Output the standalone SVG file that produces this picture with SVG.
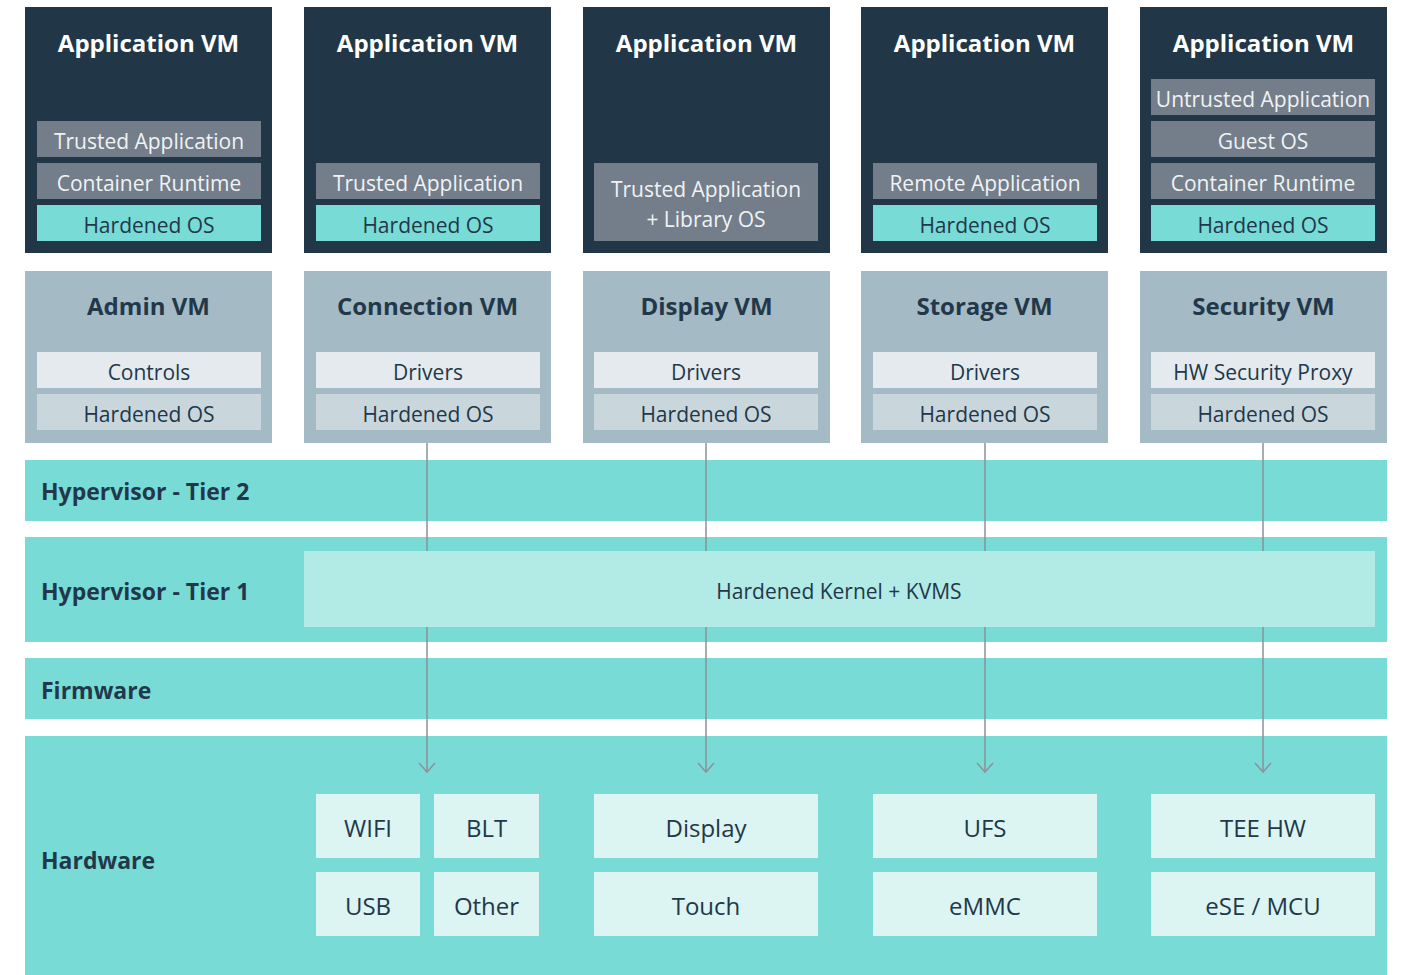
<svg xmlns="http://www.w3.org/2000/svg" width="1404" height="975" viewBox="0 0 1404 975">
  <style>
    text { font-family: "Open Sans", "Noto Sans", "DejaVu Sans", sans-serif; }
    .vm-app { fill: #213646; }
    .vm-sys { fill: #a4bac4; }
    .bar-gray { fill: #737e8a; }
    .bar-teal { fill: #79dbd5; }
    .bar-light { fill: #e4eaed; }
    .bar-mid { fill: #c9d7dd; }
    .band { fill: #79dbd5; }
    .kernel { fill: #b2eae5; }
    .hw { fill: #dcf4f2; }
    .t-title-w { font-size: 24px; font-weight: 700; fill: #ffffff; text-anchor: middle; }
    .t-title-d { font-size: 24px; font-weight: 700; fill: #22384a; text-anchor: middle; }
    .t-bar-w { font-size: 21px; fill: #f0f2f4; text-anchor: middle; }
    .t-bar-d { font-size: 21px; fill: #22384a; text-anchor: middle; }
    .t-band { font-size: 23px; font-weight: 700; fill: #22384a; }
    .t-kernel { font-size: 21px; fill: #22384a; text-anchor: middle; }
    .t-hw { font-size: 24px; fill: #22384a; text-anchor: middle; }
    .conn { fill: none; stroke: #8a9399; stroke-width: 1.5; marker-end: url(#chev); }
  </style>
  <defs>
    <marker id="chev" markerUnits="userSpaceOnUse" viewBox="-10 -10 20 20" refX="0" refY="0" markerWidth="20" markerHeight="20" orient="auto" overflow="visible">
      <path d="M-9,-8 L0,0 L-9,8" fill="none" stroke="#8a9399" stroke-width="1.5"/>
    </marker>
  </defs>

  <rect width="1404" height="975" fill="#ffffff"/>

  <!-- Application VMs -->
  <g id="app-vm-1">
    <rect class="vm-app" x="25" y="7" width="247" height="246"/>
    <text class="t-title-w" x="148.5" y="52">Application VM</text>
    <rect class="bar-gray" x="37" y="121" width="224" height="36"/>
    <text class="t-bar-w" x="149" y="148.5">Trusted Application</text>
    <rect class="bar-gray" x="37" y="163" width="224" height="36"/>
    <text class="t-bar-w" x="149" y="190.5">Container Runtime</text>
    <rect class="bar-teal" x="37" y="205" width="224" height="36"/>
    <text class="t-bar-d" x="149" y="232.5">Hardened OS</text>
  </g>
  <g id="app-vm-2">
    <rect class="vm-app" x="304" y="7" width="247" height="246"/>
    <text class="t-title-w" x="427.5" y="52">Application VM</text>
    <rect class="bar-gray" x="316" y="163" width="224" height="36"/>
    <text class="t-bar-w" x="428" y="190.5">Trusted Application</text>
    <rect class="bar-teal" x="316" y="205" width="224" height="36"/>
    <text class="t-bar-d" x="428" y="232.5">Hardened OS</text>
  </g>
  <g id="app-vm-3">
    <rect class="vm-app" x="583" y="7" width="247" height="246"/>
    <text class="t-title-w" x="706.5" y="52">Application VM</text>
    <rect class="bar-gray" x="594" y="163" width="224" height="78"/>
    <text class="t-bar-w" x="706" y="196.5">Trusted Application</text>
    <text class="t-bar-w" x="706" y="226.5">+ Library OS</text>
  </g>
  <g id="app-vm-4">
    <rect class="vm-app" x="861" y="7" width="247" height="246"/>
    <text class="t-title-w" x="984.5" y="52">Application VM</text>
    <rect class="bar-gray" x="873" y="163" width="224" height="36"/>
    <text class="t-bar-w" x="985" y="190.5">Remote Application</text>
    <rect class="bar-teal" x="873" y="205" width="224" height="36"/>
    <text class="t-bar-d" x="985" y="232.5">Hardened OS</text>
  </g>
  <g id="app-vm-5">
    <rect class="vm-app" x="1140" y="7" width="247" height="246"/>
    <text class="t-title-w" x="1263.5" y="52">Application VM</text>
    <rect class="bar-gray" x="1151" y="79" width="224" height="36"/>
    <text class="t-bar-w" x="1263" y="106.5">Untrusted Application</text>
    <rect class="bar-gray" x="1151" y="121" width="224" height="36"/>
    <text class="t-bar-w" x="1263" y="148.5">Guest OS</text>
    <rect class="bar-gray" x="1151" y="163" width="224" height="36"/>
    <text class="t-bar-w" x="1263" y="190.5">Container Runtime</text>
    <rect class="bar-teal" x="1151" y="205" width="224" height="36"/>
    <text class="t-bar-d" x="1263" y="232.5">Hardened OS</text>
  </g>

  <!-- System VMs -->
  <g id="admin-vm">
    <rect class="vm-sys" x="25" y="271" width="247" height="172"/>
    <text class="t-title-d" x="148.5" y="315">Admin VM</text>
    <rect class="bar-light" x="37" y="352" width="224" height="36"/>
    <text class="t-bar-d" x="149" y="379.5">Controls</text>
    <rect class="bar-mid" x="37" y="394" width="224" height="36"/>
    <text class="t-bar-d" x="149" y="421.5">Hardened OS</text>
  </g>
  <g id="connection-vm">
    <rect class="vm-sys" x="304" y="271" width="247" height="172"/>
    <text class="t-title-d" x="427.5" y="315">Connection VM</text>
    <rect class="bar-light" x="316" y="352" width="224" height="36"/>
    <text class="t-bar-d" x="428" y="379.5">Drivers</text>
    <rect class="bar-mid" x="316" y="394" width="224" height="36"/>
    <text class="t-bar-d" x="428" y="421.5">Hardened OS</text>
  </g>
  <g id="display-vm">
    <rect class="vm-sys" x="583" y="271" width="247" height="172"/>
    <text class="t-title-d" x="706.5" y="315">Display VM</text>
    <rect class="bar-light" x="594" y="352" width="224" height="36"/>
    <text class="t-bar-d" x="706" y="379.5">Drivers</text>
    <rect class="bar-mid" x="594" y="394" width="224" height="36"/>
    <text class="t-bar-d" x="706" y="421.5">Hardened OS</text>
  </g>
  <g id="storage-vm">
    <rect class="vm-sys" x="861" y="271" width="247" height="172"/>
    <text class="t-title-d" x="984.5" y="315">Storage VM</text>
    <rect class="bar-light" x="873" y="352" width="224" height="36"/>
    <text class="t-bar-d" x="985" y="379.5">Drivers</text>
    <rect class="bar-mid" x="873" y="394" width="224" height="36"/>
    <text class="t-bar-d" x="985" y="421.5">Hardened OS</text>
  </g>
  <g id="security-vm">
    <rect class="vm-sys" x="1140" y="271" width="247" height="172"/>
    <text class="t-title-d" x="1263.5" y="315">Security VM</text>
    <rect class="bar-light" x="1151" y="352" width="224" height="36"/>
    <text class="t-bar-d" x="1263" y="379.5">HW Security Proxy</text>
    <rect class="bar-mid" x="1151" y="394" width="224" height="36"/>
    <text class="t-bar-d" x="1263" y="421.5">Hardened OS</text>
  </g>

  <!-- Layers -->
  <g id="hypervisor-tier-2">
    <rect class="band" x="25" y="460" width="1362" height="61"/>
    <text class="t-band" x="41" y="500">Hypervisor - Tier 2</text>
  </g>
  <g id="hypervisor-tier-1">
    <rect class="band" x="25" y="537" width="1362" height="105"/>
    <text class="t-band" x="41" y="600">Hypervisor - Tier 1</text>
  </g>
  <g id="firmware">
    <rect class="band" x="25" y="658" width="1362" height="61"/>
    <text class="t-band" x="41" y="699">Firmware</text>
  </g>
  <g id="hardware">
    <rect class="band" x="25" y="736" width="1362" height="239"/>
    <text class="t-band" x="41" y="869">Hardware</text>
  </g>

  <!-- Driver paths down to the hardware -->
  <g id="connectors">
    <path class="conn" d="M427,443 V551 M427,627 V772"/>
    <path class="conn" d="M706,443 V551 M706,627 V772"/>
    <path class="conn" d="M985,443 V551 M985,627 V772"/>
    <path class="conn" d="M1263,443 V551 M1263,627 V772"/>
  </g>

  <g id="kernel">
    <rect class="kernel" x="304" y="551" width="1071" height="76"/>
    <text class="t-kernel" x="839" y="599">Hardened Kernel + KVMS</text>
  </g>

  <!-- Hardware blocks -->
  <g id="hw-wifi"><rect class="hw" x="316" y="794" width="104" height="64"/><text class="t-hw" x="368" y="836.5">WIFI</text></g>
  <g id="hw-blt"><rect class="hw" x="434" y="794" width="105" height="64"/><text class="t-hw" x="486.5" y="836.5">BLT</text></g>
  <g id="hw-usb"><rect class="hw" x="316" y="872" width="104" height="64"/><text class="t-hw" x="368" y="914.5">USB</text></g>
  <g id="hw-other"><rect class="hw" x="434" y="872" width="105" height="64"/><text class="t-hw" x="486.5" y="914.5">Other</text></g>
  <g id="hw-display"><rect class="hw" x="594" y="794" width="224" height="64"/><text class="t-hw" x="706" y="836.5">Display</text></g>
  <g id="hw-touch"><rect class="hw" x="594" y="872" width="224" height="64"/><text class="t-hw" x="706" y="914.5">Touch</text></g>
  <g id="hw-ufs"><rect class="hw" x="873" y="794" width="224" height="64"/><text class="t-hw" x="985" y="836.5">UFS</text></g>
  <g id="hw-emmc"><rect class="hw" x="873" y="872" width="224" height="64"/><text class="t-hw" x="985" y="914.5">eMMC</text></g>
  <g id="hw-tee"><rect class="hw" x="1151" y="794" width="224" height="64"/><text class="t-hw" x="1263" y="836.5">TEE HW</text></g>
  <g id="hw-ese"><rect class="hw" x="1151" y="872" width="224" height="64"/><text class="t-hw" x="1263" y="914.5">eSE / MCU</text></g>
</svg>
